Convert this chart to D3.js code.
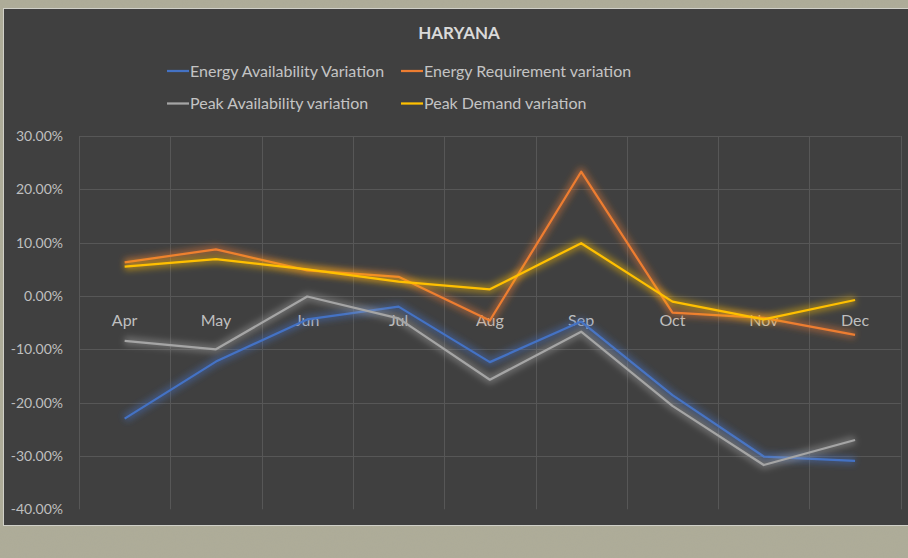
<!doctype html>
<html>
<head>
<style>
  body {
    margin: 0;
    background-color: #adab97;
  }

  svg {
    display: block;
  }

  .tick text {
    fill: #bfbfbf;
    font-family: Lato, sans-serif;
  }

  .legend text {
    fill: #c4c4c4;
    font-family: Lato, sans-serif;
    font-size: 16px;
  }
</style>
<script src="https://d3js.org/d3.v7.min.js"></script>
</head>
<body>
<script>

  var months = ["Apr", "May", "Jun", "Jul", "Aug", "Sep", "Oct", "Nov", "Dec"];
  var seriesNames = ["Energy Availability Variation", "Energy Requirement variation",
                     "Peak Availability variation", "Peak Demand variation"];
  var seriesColors = ["#4472c4", "#ed7d31", "#a5a5a5", "#ffc000"];

  // values in percent
  var energyAvailability = [-23.0, -12.3, -4.4, -2.0, -12.4, -4.8, -18.6, -30.1, -30.9];
  var energyRequirement  = [6.3, 8.75, 4.8, 3.6, -4.6, 23.3, -3.1, -4.1, -7.3];
  var peakAvailability   = [-8.4, -10.0, -0.1, -4.2, -15.7, -6.7, -20.6, -31.7, -27.0];
  var peakDemand         = [5.5, 6.9, 5.0, 2.7, 1.25, 9.9, -1.06, -4.4, -0.75];

  var yTicks = [-40, -30, -20, -10, 0, 10, 20, 30];

  var allSeries = [energyAvailability, energyRequirement, peakAvailability, peakDemand];

  var svg_width = 908;
  var svg_height = 558;

  var svg = d3.select("body")
              .append("svg")
              .attr("width", svg_width)
              .attr("height", svg_height);

  var defs = svg.append("defs");

  // grainy background like the slide
  var grain = defs.append("filter").attr("id", "grain");
  grain.append("feTurbulence")
    .attr("type", "fractalNoise")
    .attr("baseFrequency", 0.9)
    .attr("numOctaves", 2)
    .attr("result", "noise");
  grain.append("feColorMatrix")
    .attr("type", "matrix")
    .attr("values", "0 0 0 0 0.45  0 0 0 0 0.45  0 0 0 0 0.38  0 0 0 0.18 0");
  grain.append("feComposite").attr("in2", "SourceGraphic").attr("operator", "in");

  var glow = defs.append("filter").attr("id", "glow")
    .attr("x", "-10%").attr("y", "-30%").attr("width", "120%").attr("height", "160%");
  glow.append("feGaussianBlur").attr("stdDeviation", 3);

  svg.append("rect")
    .attr("width", svg_width)
    .attr("height", svg_height)
    .attr("fill", "#adab97");
  svg.append("rect")
    .attr("width", svg_width)
    .attr("height", svg_height)
    .attr("fill", "#adab97")
    .attr("filter", "url(#grain)");

  // chart box
  svg.append("rect")
    .attr("x", 3.5)
    .attr("y", 8.5)
    .attr("width", 920)
    .attr("height", 517)
    .attr("fill", "#404040")
    .attr("stroke", "#d0d0c8")
    .attr("stroke-width", 1);

  svg.append("text")
    .attr("x", 459)
    .attr("y", 39)
    .attr("text-anchor", "middle")
    .attr("font-family", "Lato, sans-serif")
    .attr("font-weight", "bold")
    .attr("font-size", "17px")
    .attr("fill", "#d9d9d9")
    .text("HARYANA");

  // legend
  var legendPos = [[167, 71], [401, 71], [167, 103.5], [401, 103.5]];
  var legend = svg.append("g").attr("class", "legend");
  seriesNames.forEach(function(name, i) {
    var p = legendPos[i];
    legend.append("line")
      .attr("x1", p[0]).attr("x2", p[0] + 22)
      .attr("y1", p[1]).attr("y2", p[1])
      .attr("stroke", seriesColors[i])
      .attr("stroke-width", 2.25);
    legend.append("text")
      .attr("x", p[0] + 23)
      .attr("y", p[1] + 5.8)
      .text(name);
  });

  // plot area
  var plotLeft = 79, plotRight = 900.7, plotTop = 136, plotBottom = 509.3;

  var xScale = d3.scaleBand().domain(months).range([plotLeft, plotRight]);
  var yScale = d3.scaleLinear().domain([-40, 30]).range([plotBottom, plotTop]);

  var grid = svg.append("g");
  grid.selectAll(".hgrid")
    .data(yTicks.filter(function(d) { return d > -40; }))
    .enter().append("line")
    .attr("x1", plotLeft).attr("x2", plotRight)
    .attr("y1", function(d) { return Math.round(yScale(d)) + 0.5; })
    .attr("y2", function(d) { return Math.round(yScale(d)) + 0.5; })
    .attr("stroke", "#575757")
    .attr("stroke-width", 1);

  var bounds = months.map(function(m) { return xScale(m); }).concat([plotRight]);
  grid.selectAll(".vgrid")
    .data(bounds)
    .enter().append("line")
    .attr("x1", function(d) { return Math.round(d) + 0.5; })
    .attr("x2", function(d) { return Math.round(d) + 0.5; })
    .attr("y1", plotTop).attr("y2", plotBottom)
    .attr("stroke", "#575757")
    .attr("stroke-width", 1);

  var yAxis = svg.append("g")
    .attr("transform", "translate(" + plotLeft + ",0)")
    .call(d3.axisLeft(yScale)
      .tickValues(yTicks)
      .tickSize(0)
      .tickPadding(16)
      .tickFormat(function(d) { return d.toFixed(2) + "%"; }));
  yAxis.select(".domain").remove();
  yAxis.selectAll("text").attr("font-size", "14px");

  var xAxis = svg.append("g")
    .attr("transform", "translate(0," + yScale(0) + ")")
    .call(d3.axisBottom(xScale).tickSize(0).tickPadding(18.6));
  xAxis.select(".domain").remove();
  xAxis.selectAll("text").attr("font-size", "16px");

  var line = d3.line()
    .x(function(d, i) { return xScale(months[i]) + xScale.bandwidth() / 2; })
    .y(function(d) { return yScale(d); });

  allSeries.forEach(function(values, i) {
    svg.append("path")
      .datum(values)
      .attr("d", line)
      .attr("fill", "none")
      .attr("stroke", seriesColors[i])
      .attr("stroke-width", 8)
      .attr("stroke-opacity", 0.45)
      .attr("stroke-linejoin", "round")
      .attr("filter", "url(#glow)");
    svg.append("path")
      .datum(values)
      .attr("d", line)
      .attr("fill", "none")
      .attr("stroke", seriesColors[i])
      .attr("stroke-width", 2.25)
      .attr("stroke-linejoin", "round");
  });

</script>
</body>
</html>
